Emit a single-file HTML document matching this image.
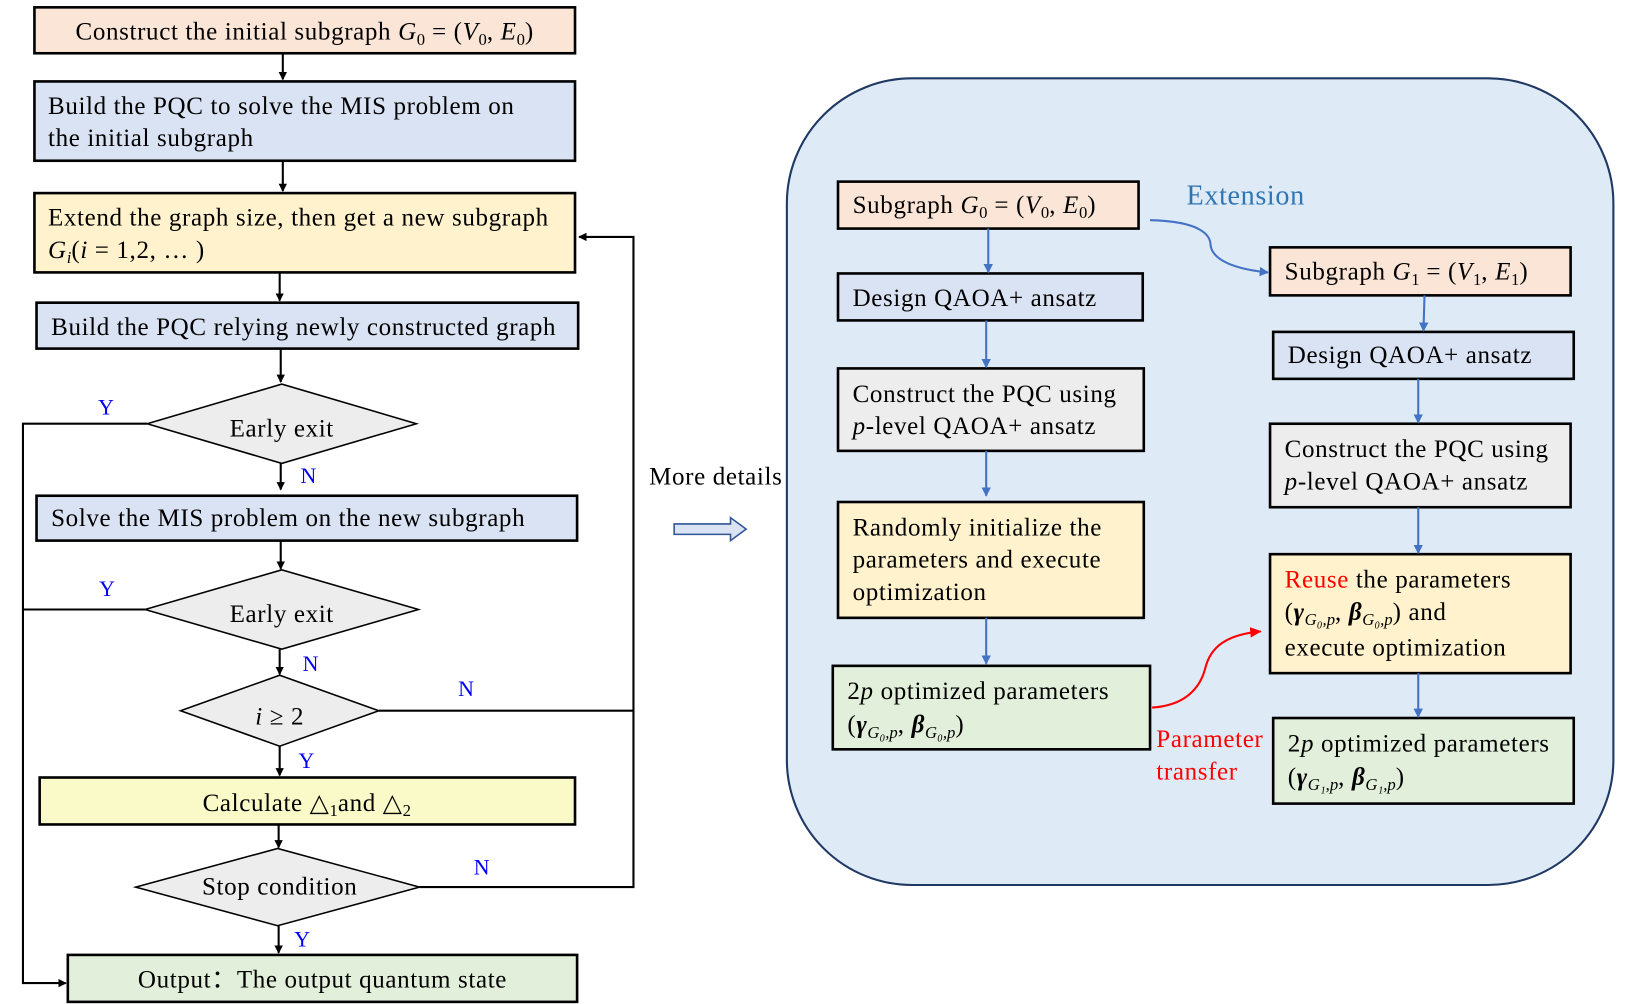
<!DOCTYPE html>
<html><head><meta charset="utf-8"><style>
html,body{margin:0;padding:0;background:#fff;}
svg{display:block;}
text{font-family:"Liberation Serif",serif;font-size:24px;letter-spacing:0.6px;fill:#000;}
.i{font-style:italic;}
.s{font-size:16px;letter-spacing:0;}
.b{fill:#0000ff;font-size:21px;}
</style></head><body>
<svg width="1628" height="1004" viewBox="0 0 1560 962" xmlns="http://www.w3.org/2000/svg">
<defs>
<marker id="ak" markerWidth="8" markerHeight="8" refX="7" refY="4" orient="auto" markerUnits="userSpaceOnUse"><path d="M0,0 L8,4 L0,8 z" fill="#000"/></marker>
<marker id="ab" markerWidth="9" markerHeight="9" refX="8" refY="4.5" orient="auto" markerUnits="userSpaceOnUse"><path d="M0,0 L9,4.5 L0,9 z" fill="#4472c4"/></marker>
<marker id="ar" markerWidth="11" markerHeight="10" refX="10" refY="5" orient="auto" markerUnits="userSpaceOnUse"><path d="M0,0 L11,5 L0,10 z" fill="#ff0000"/></marker>
</defs>
<g stroke="#000" stroke-width="2.5">
<rect x="33" y="7" width="518" height="44" fill="#fbe5d6"/>
<rect x="33" y="78" width="518" height="76" fill="#dae3f3"/>
<rect x="33" y="185" width="518" height="76" fill="#fff2cc"/>
<rect x="35" y="290" width="519" height="44" fill="#dae3f3"/>
<rect x="35" y="475" width="518" height="43" fill="#dae3f3"/>
<rect x="38" y="745" width="513" height="45" fill="#fafac8"/>
<rect x="65" y="915" width="488" height="45" fill="#e2efda"/>
</g>
<g stroke="#000" stroke-width="1.5" fill="#ededed">
<polygon points="141,406 270,368 399,406 270,444"/>
<polygon points="139,584 270,546 401,584 270,622"/>
<polygon points="173,681 268,647 363,681 268,715"/>
<polygon points="130,850 266,813 402,850 266,887"/>
</g>
<g stroke="#000" stroke-width="2" fill="none">
<line x1="271" y1="51" x2="271" y2="76" marker-end="url(#ak)"/>
<line x1="271" y1="154" x2="271" y2="183" marker-end="url(#ak)"/>
<line x1="268" y1="261" x2="268" y2="288" marker-end="url(#ak)"/>
<line x1="269" y1="334" x2="269" y2="366" marker-end="url(#ak)"/>
<line x1="269" y1="444" x2="269" y2="469" marker-end="url(#ak)"/>
<line x1="269" y1="518" x2="269" y2="545" marker-end="url(#ak)"/>
<line x1="268" y1="622" x2="268" y2="646" marker-end="url(#ak)"/>
<line x1="268" y1="715" x2="268" y2="743" marker-end="url(#ak)"/>
<line x1="267" y1="790" x2="267" y2="812" marker-end="url(#ak)"/>
<line x1="267" y1="887" x2="267" y2="913" marker-end="url(#ak)"/>
<polyline points="141,406 22,406 22,942 63,942" marker-end="url(#ak)"/>
<line x1="139" y1="584" x2="22" y2="584"/>
<polyline points="363,681 607,681"/>
<polyline points="402,850 607,850 607,227 555,227" marker-end="url(#ak)"/>
</g>
<text x="292" y="38" text-anchor="middle">Construct the initial subgraph  <tspan class="i">G</tspan><tspan class="s" dy="5">0</tspan><tspan dy="-5"> = (</tspan><tspan class="i">V</tspan><tspan class="s" dy="5">0</tspan><tspan dy="-5">, </tspan><tspan class="i">E</tspan><tspan class="s" dy="5">0</tspan><tspan dy="-5">)</tspan></text>
<text x="46" y="109">Build the PQC to solve the MIS problem on</text>
<text x="46" y="140">the initial subgraph</text>
<text x="46" y="216">Extend the graph size, then get a new subgraph</text>
<text x="46" y="247"><tspan class="i">G</tspan><tspan class="s i" dy="5">i</tspan><tspan dy="-5">(</tspan><tspan class="i">i</tspan> = 1,2, … )</text>
<text x="49" y="321">Build the PQC relying newly constructed graph</text>
<text x="270" y="418" text-anchor="middle">Early exit</text>
<text x="49" y="504">Solve the MIS problem on the new subgraph</text>
<text x="270" y="596" text-anchor="middle">Early exit</text>
<text x="268" y="694" text-anchor="middle"><tspan class="i">i</tspan> ≥ 2</text>
<text x="294" y="777" text-anchor="middle">Calculate △<tspan class="s" dy="5">1</tspan><tspan dy="-5">and △</tspan><tspan class="s" dy="5">2</tspan></text>
<text x="268" y="857" text-anchor="middle">Stop condition</text>
<text x="309" y="946" text-anchor="middle">Output：The output quantum state</text>
<text class="b" x="94" y="397">Y</text>
<text class="b" x="288" y="463">N</text>
<text class="b" x="95" y="571">Y</text>
<text class="b" x="290" y="643">N</text>
<text class="b" x="439" y="667">N</text>
<text class="b" x="286" y="736">Y</text>
<text class="b" x="454" y="838">N</text>
<text class="b" x="282" y="907">Y</text>
<text x="622" y="464">More details</text>
<polygon points="646,502 700,502 700,496 715,507 700,518 700,512 646,512" fill="#dae3f3" stroke="#2f5597" stroke-width="1.5"/>
<rect x="754" y="75" width="792" height="773" rx="120" ry="120" fill="#deeaf6" stroke="#1f3864" stroke-width="2"/>
<g stroke="#000" stroke-width="2.5">
<rect x="803" y="174" width="288" height="45" fill="#fbe5d6"/>
<rect x="803" y="262" width="292" height="45" fill="#dae3f3"/>
<rect x="803" y="353" width="293" height="79" fill="#ededed"/>
<rect x="803" y="481" width="293" height="111" fill="#fff2cc"/>
<rect x="798" y="638" width="304" height="80" fill="#e2efda"/>
<rect x="1217" y="237" width="288" height="46" fill="#fbe5d6"/>
<rect x="1220" y="318" width="288" height="45" fill="#dae3f3"/>
<rect x="1217" y="406" width="288" height="80" fill="#ededed"/>
<rect x="1217" y="531" width="288" height="114" fill="#fff2cc"/>
<rect x="1220" y="688" width="288" height="82" fill="#e2efda"/>
</g>
<g stroke="#4472c4" stroke-width="2" fill="none">
<line x1="947" y1="219" x2="947" y2="261" marker-end="url(#ab)"/>
<line x1="945" y1="307" x2="945" y2="352" marker-end="url(#ab)"/>
<line x1="945" y1="432" x2="945" y2="475" marker-end="url(#ab)"/>
<line x1="945" y1="592" x2="945" y2="636" marker-end="url(#ab)"/>
<line x1="1365" y1="283" x2="1364" y2="317" marker-end="url(#ab)"/>
<line x1="1359" y1="363" x2="1359" y2="405" marker-end="url(#ab)"/>
<line x1="1359" y1="486" x2="1359" y2="530" marker-end="url(#ab)"/>
<line x1="1359" y1="645" x2="1359" y2="687" marker-end="url(#ab)"/>
<path d="M1102,211 C1150,212 1160,225 1160,235 C1162,250 1185,258 1215,261" marker-end="url(#ab)"/>
</g>
<path d="M1104,678 C1135,676 1150,660 1155,640 C1160,620 1175,608 1208,605" stroke="#ff0000" stroke-width="2" fill="none" marker-end="url(#ar)"/>
<text x="1137" y="196" style="fill:#2e75b6;font-size:27px">Extension</text>
<text x="1108" y="716" style="fill:#ff0000">Parameter</text>
<text x="1108" y="747" style="fill:#ff0000">transfer</text>
<text x="817" y="204">Subgraph <tspan class="i">G</tspan><tspan class="s" dy="5">0</tspan><tspan dy="-5"> = (</tspan><tspan class="i">V</tspan><tspan class="s" dy="5">0</tspan><tspan dy="-5">, </tspan><tspan class="i">E</tspan><tspan class="s" dy="5">0</tspan><tspan dy="-5">)</tspan></text>
<text x="817" y="293">Design QAOA+ ansatz</text>
<text x="817" y="385">Construct the PQC using</text>
<text x="817" y="416"><tspan class="i">p</tspan>-level QAOA+ ansatz</text>
<text x="817" y="513">Randomly initialize the</text>
<text x="817" y="544">parameters and execute</text>
<text x="817" y="575">optimization</text>
<text x="812" y="670">2<tspan class="i">p</tspan> optimized parameters</text>
<text x="812" y="702">(<tspan font-weight="bold" class="i">γ</tspan><tspan class="s i" dy="5">G₀,p</tspan><tspan dy="-5">, </tspan><tspan font-weight="bold" class="i">β</tspan><tspan class="s i" dy="5">G₀,p</tspan><tspan dy="-5">)</tspan></text>
<text x="1231" y="268">Subgraph <tspan class="i">G</tspan><tspan class="s" dy="5">1</tspan><tspan dy="-5"> = (</tspan><tspan class="i">V</tspan><tspan class="s" dy="5">1</tspan><tspan dy="-5">, </tspan><tspan class="i">E</tspan><tspan class="s" dy="5">1</tspan><tspan dy="-5">)</tspan></text>
<text x="1234" y="348">Design QAOA+ ansatz</text>
<text x="1231" y="438">Construct the PQC using</text>
<text x="1231" y="469"><tspan class="i">p</tspan>-level QAOA+ ansatz</text>
<text x="1231" y="563"><tspan style="fill:#ff0000">Reuse</tspan> the parameters</text>
<text x="1231" y="594">(<tspan font-weight="bold" class="i">γ</tspan><tspan class="s i" dy="5">G₀,p</tspan><tspan dy="-5">, </tspan><tspan font-weight="bold" class="i">β</tspan><tspan class="s i" dy="5">G₀,p</tspan><tspan dy="-5">) and</tspan></text>
<text x="1231" y="628">execute optimization</text>
<text x="1234" y="720">2<tspan class="i">p</tspan> optimized parameters</text>
<text x="1234" y="752">(<tspan font-weight="bold" class="i">γ</tspan><tspan class="s i" dy="5">G₁,p</tspan><tspan dy="-5">, </tspan><tspan font-weight="bold" class="i">β</tspan><tspan class="s i" dy="5">G₁,p</tspan><tspan dy="-5">)</tspan></text>
</svg>
</body></html>
